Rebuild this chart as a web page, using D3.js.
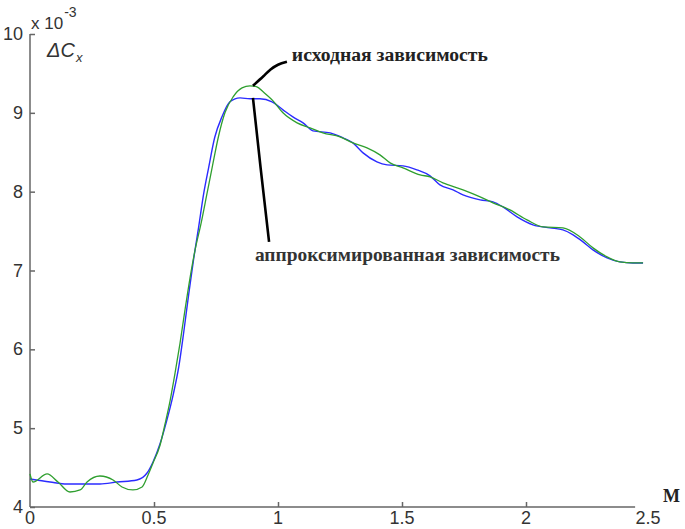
<!DOCTYPE html>
<html>
<head>
<meta charset="utf-8">
<script src="https://cdn.jsdelivr.net/npm/d3@7"></script>
<style>
  html, body { margin: 0; padding: 0; background: #fff; }
  svg { display: block; }
</style>
</head>
<body>
<svg id="chart" width="685" height="529"></svg>
<script>
// ---- data ----
const xTicks = [0, 0.5, 1, 1.5, 2, 2.5];
const xTickLabels = ["0", "0.5", "1", "1.5", "2", "2.5"];
const yTicks = [4, 5, 6, 7, 8, 9, 10];
const yTickLabels = ["4", "5", "6", "7", "8", "9", "10"];

// approximated dependence (blue)
const approxM = [0, 0.081, 0.149, 0.282, 0.351, 0.431, 0.472, 0.496, 0.524, 0.550, 0.577, 0.600, 0.620, 0.640, 0.660, 0.680, 0.700, 0.720, 0.745, 0.774, 0.806, 0.847, 0.887, 0.927, 0.976, 1.020, 1.060, 1.101, 1.141, 1.210, 1.262, 1.302, 1.343, 1.399, 1.440, 1.504, 1.560, 1.613, 1.653, 1.706, 1.746, 1.815, 1.867, 1.907, 1.964, 2.028, 2.097, 2.149, 2.190, 2.230, 2.270, 2.327, 2.379, 2.431, 2.472];
const approxV = [4.355, 4.317, 4.292, 4.292, 4.317, 4.343, 4.431, 4.571, 4.800, 5.080, 5.420, 5.780, 6.220, 6.700, 7.150, 7.550, 7.970, 8.300, 8.690, 8.949, 9.140, 9.190, 9.178, 9.178, 9.140, 9.038, 8.949, 8.873, 8.772, 8.746, 8.683, 8.619, 8.492, 8.378, 8.340, 8.327, 8.277, 8.201, 8.086, 8.023, 7.959, 7.896, 7.871, 7.807, 7.680, 7.579, 7.541, 7.515, 7.452, 7.363, 7.261, 7.160, 7.109, 7.096, 7.096];

// original dependence (green)
const origM = [0, 0.012, 0.069, 0.113, 0.161, 0.202, 0.230, 0.282, 0.335, 0.371, 0.415, 0.452, 0.476, 0.496, 0.524, 0.545, 0.565, 0.585, 0.605, 0.625, 0.645, 0.665, 0.690, 0.714, 0.736, 0.760, 0.786, 0.819, 0.855, 0.887, 0.915, 0.940, 0.980, 1.020, 1.077, 1.129, 1.181, 1.250, 1.302, 1.359, 1.411, 1.452, 1.504, 1.573, 1.613, 1.665, 1.746, 1.815, 1.867, 1.935, 2.004, 2.069, 2.149, 2.218, 2.270, 2.327, 2.379, 2.431, 2.472];
const origV = [4.419, 4.317, 4.419, 4.317, 4.190, 4.216, 4.317, 4.393, 4.343, 4.254, 4.216, 4.254, 4.406, 4.558, 4.780, 5.060, 5.350, 5.700, 6.080, 6.500, 6.900, 7.250, 7.600, 7.980, 8.330, 8.700, 9.000, 9.203, 9.317, 9.343, 9.330, 9.266, 9.152, 9.000, 8.873, 8.810, 8.746, 8.695, 8.619, 8.556, 8.467, 8.365, 8.302, 8.213, 8.188, 8.112, 8.023, 7.934, 7.858, 7.769, 7.642, 7.553, 7.541, 7.426, 7.287, 7.173, 7.109, 7.096, 7.096];

// annotations (data coordinates)
const labelOrig = "исходная зависимость";
const labelApprox = "аппроксимированная зависимость";
const leaderOrig = [[0.899, 9.343], [0.94, 9.46], [0.97, 9.55], [1.00, 9.61], [1.036, 9.647]];
const leaderApprox = [[0.899, 9.19], [0.93, 8.30], [0.964, 7.363]];
const labelOrigPos = [1.056, 9.66];
const labelApproxPos = [0.907, 7.12];
const axisEndM = 2.44;

// ---- drawing ----
const svg = d3.select("#chart");
const x = d3.scaleLinear().domain([0, 2.5]).range([30, 650]);
const y = d3.scaleLinear().domain([4, 10]).range([507, 34]);
const axisColor = "#666";
const textColor = "#333";

// y axis
const yAxis = svg.append("g").attr("transform", `translate(${x(0)},0)`)
  .call(d3.axisRight(y).tickValues(yTicks).tickSize(5).tickFormat((d, i) => ""));
yAxis.select(".domain").attr("d", `M0,${y(10)}V${y(4)}`).attr("stroke", axisColor).attr("stroke-width", 1.5);
yAxis.selectAll(".tick line").attr("stroke", axisColor).attr("stroke-width", 1.5);
svg.append("g").selectAll("text").data(yTicks).join("text")
  .attr("x", x(0) - 7).attr("y", d => y(d) + 6)
  .attr("text-anchor", "end")
  .attr("font-family", "Liberation Sans, Arial, sans-serif")
  .attr("font-size", 18).attr("fill", textColor)
  .text((d, i) => yTickLabels[i]);

// x axis
const xAxis = svg.append("g").attr("transform", `translate(0,${y(4)})`)
  .call(d3.axisTop(x).tickValues(xTicks.filter(d => d > 0 && d < 2.5)).tickSize(5).tickFormat(""));
xAxis.select(".domain").attr("d", `M${x(0)},0H${x(axisEndM)}`).attr("stroke", axisColor).attr("stroke-width", 1.5);
xAxis.selectAll(".tick line").attr("stroke", axisColor).attr("stroke-width", 1.5);
svg.append("g").selectAll("text").data(xTicks).join("text")
  .attr("x", d => x(d) - (d === 2.5 ? 2 : 0)).attr("y", y(4) + 17)
  .attr("text-anchor", "middle")
  .attr("font-family", "Liberation Sans, Arial, sans-serif")
  .attr("font-size", 18).attr("fill", textColor)
  .text((d, i) => xTickLabels[i]);

// axis titles
svg.append("text").attr("x", 663).attr("y", 502)
  .attr("font-family", "Liberation Serif, Times New Roman, serif").attr("font-weight", "bold")
  .attr("font-size", 18).attr("fill", "#222").text("M");

const exp = svg.append("text").attr("x", 31).attr("y", 29)
  .attr("font-family", "Liberation Sans, Arial, sans-serif").attr("font-size", 17).attr("fill", textColor);
exp.append("tspan").text("x 10");
exp.append("tspan").attr("font-size", 14).attr("dy", -12).attr("dx", 1).text("-3");

const yl = svg.append("text").attr("x", 47).attr("y", 57)
  .attr("font-family", "Liberation Sans, Arial, sans-serif").attr("font-style", "italic")
  .attr("font-size", 20).attr("fill", textColor);
yl.append("tspan").text("ΔC");
yl.append("tspan").attr("font-size", 13).attr("dy", 5).attr("dx", 1).text("x");

// curves
const line = d3.line().x(d => x(d[0])).y(d => y(d[1])).curve(d3.curveMonotoneX);
const approx = approxM.map((m, i) => [m, approxV[i]]);
const orig = origM.map((m, i) => [m, origV[i]]);

svg.append("path").datum(approx).attr("d", line)
  .attr("fill", "none").attr("stroke", "#2b2bff").attr("stroke-width", 1.4);
svg.append("path").datum(orig).attr("d", line)
  .attr("fill", "none").attr("stroke", "#2f9f2f").attr("stroke-width", 1.3);

// leader lines
const leader = d3.line().x(d => x(d[0])).y(d => y(d[1])).curve(d3.curveCatmullRom);
svg.append("path").datum(leaderOrig).attr("d", leader)
  .attr("fill", "none").attr("stroke", "#000").attr("stroke-width", 2.6);
svg.append("path").datum(leaderApprox).attr("d", d3.line().x(d => x(d[0])).y(d => y(d[1])))
  .attr("fill", "none").attr("stroke", "#000").attr("stroke-width", 2.6);

// labels
svg.append("text").attr("x", x(labelOrigPos[0])).attr("y", y(labelOrigPos[1]))
  .attr("font-family", "Liberation Serif, Times New Roman, serif").attr("font-weight", "bold")
  .attr("font-size", 18).attr("fill", "#222")
  .attr("textLength", 196).attr("lengthAdjust", "spacingAndGlyphs")
  .text(labelOrig);
svg.append("text").attr("x", x(labelApproxPos[0])).attr("y", y(labelApproxPos[1]))
  .attr("font-family", "Liberation Serif, Times New Roman, serif").attr("font-weight", "bold")
  .attr("font-size", 19).attr("fill", "#333")
  .attr("textLength", 305).attr("lengthAdjust", "spacingAndGlyphs")
  .text(labelApprox);
</script>
</body>
</html>
